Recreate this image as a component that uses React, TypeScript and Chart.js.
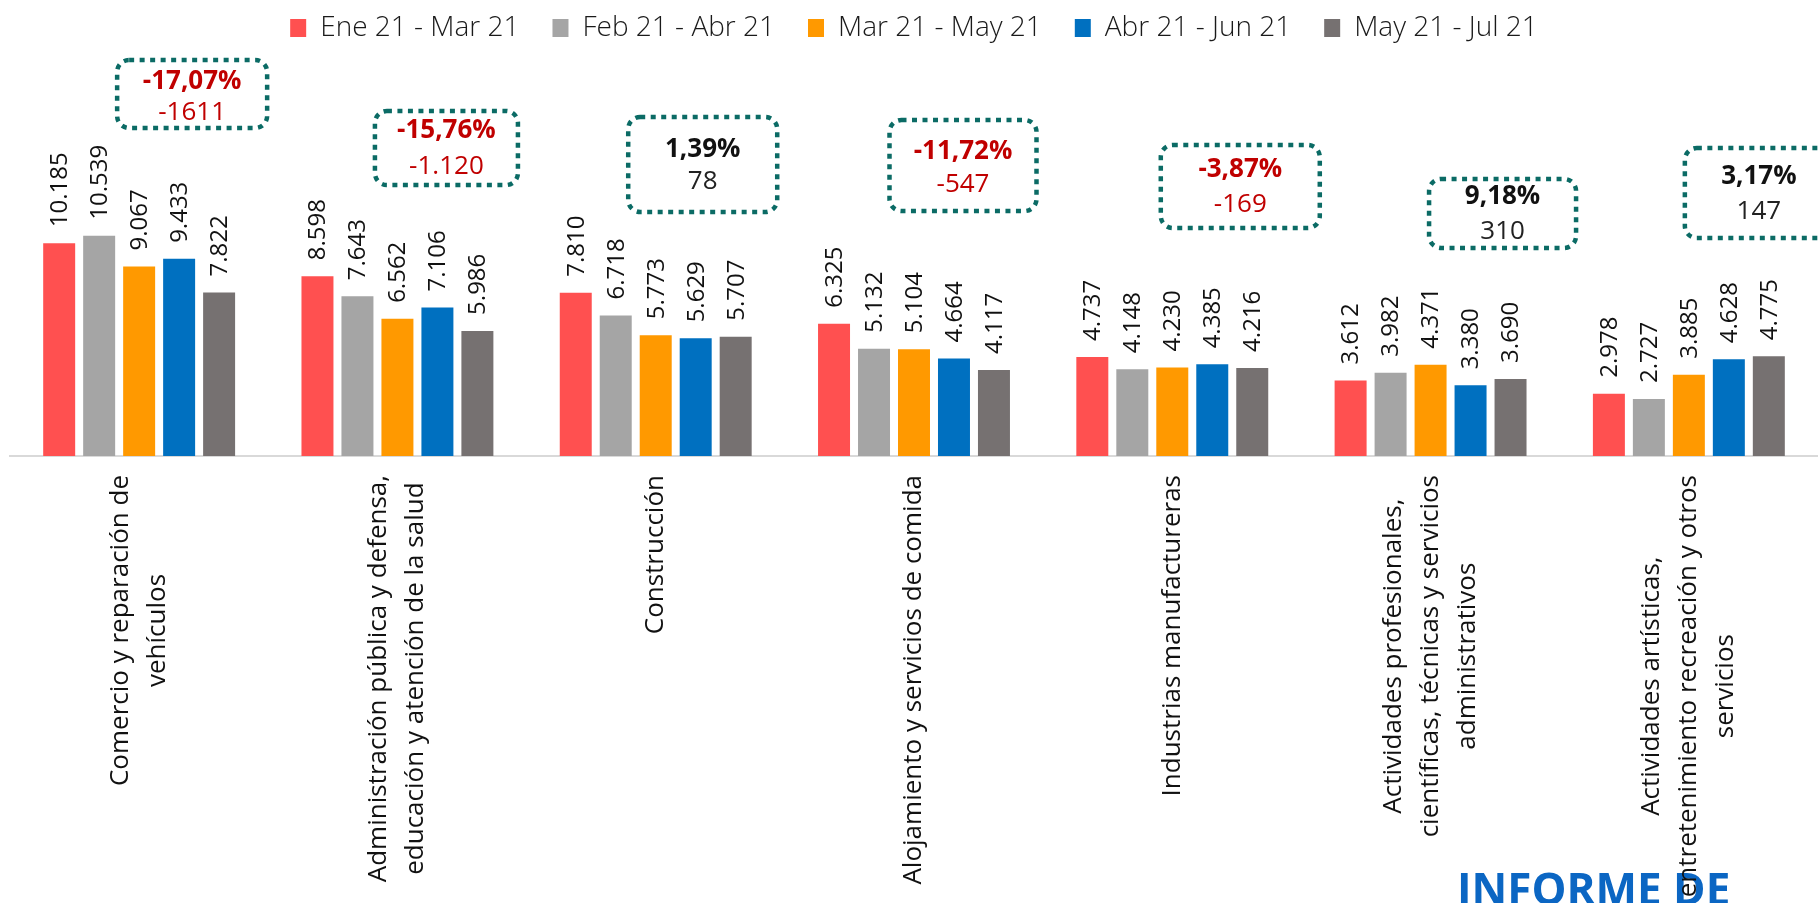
import React, { useEffect, useRef } from 'react';
import { Chart, registerables } from 'chart.js';

Chart.register(...registerables);

// ---------- data ----------
const categories: string[][] = [
  ['Comercio y reparación de', 'vehículos'],
  ['Administración pública y defensa,', 'educación y atención de la salud'],
  ['Construcción'],
  ['Alojamiento y servicios de comida'],
  ['Industrias manufactureras'],
  ['Actividades profesionales,', 'científicas, técnicas y servicios', 'administrativos'],
  ['Actividades artísticas,', 'entretenimiento recreación y otros', 'servicios'],
];

const seriesNames = ['Ene 21 - Mar 21', 'Feb 21 - Abr 21', 'Mar 21 - May 21', 'Abr 21 - Jun 21', 'May 21 - Jul 21'];

const eneMar = [10185, 8598, 7810, 6325, 4737, 3612, 2978];
const febAbr = [10539, 7643, 6718, 5132, 4148, 3982, 2727];
const marMay = [9067, 6562, 5773, 5104, 4230, 4371, 3885];
const abrJun = [9433, 7106, 5629, 4664, 4385, 3380, 4628];
const mayJul = [7822, 5986, 5707, 4117, 4216, 3690, 4775];

const changePct = ['-17,07%', '-15,76%', '1,39%', '-11,72%', '-3,87%', '9,18%', '3,17%'];
const changeAbs = ['-1611', '-1.120', '78', '-547', '-169', '310', '147'];

const seriesColors = ['#FF5050', '#A5A5A5', '#FF9900', '#0070C0', '#767171'];

// ---------- annotation box placement (pixels) ----------
const boxLayout = [
  { dx: 53, w: 150, top: 60, bottom: 128, pctY: 82, valY: 113 },
  { dx: 49, w: 143, top: 111, bottom: 185, pctY: 131, valY: 167 },
  { dx: 47, w: 149, top: 117, bottom: 212, pctY: 150, valY: 182 },
  { dx: 49, w: 147, top: 120, bottom: 211, pctY: 152, valY: 185 },
  { dx: 68, w: 159, top: 145, bottom: 228, pctY: 170, valY: 205 },
  { dx: 72, w: 147, top: 179, bottom: 248, pctY: 197, valY: 232 },
  { dx: 70, w: 148, top: 148, bottom: 238, pctY: 177, valY: 212 },
];

const FONT = "'Open Sans', 'Noto Sans', sans-serif";

const fmt = (n: number) => String(n).replace(/\B(?=(\d{3})+(?!\d))/g, '.');

const overlayPlugin = {
  id: 'overlay',
  afterDraw(chart: any) {
    const ctx: CanvasRenderingContext2D = chart.ctx;
    const xScale = chart.scales.x;
    const area = chart.chartArea;

    // "INFORME DE" heading (partially cut at bottom)
    ctx.save();
    ctx.fillStyle = '#0B66C3';
    ctx.font = `bold 44px ${FONT}`;
    ctx.textAlign = 'left';
    ctx.textBaseline = 'alphabetic';
    ctx.fillText('INFORME DE', 1457, 905);
    ctx.restore();

    // category labels, rotated, centered block
    ctx.save();
    ctx.fillStyle = '#111111';
    ctx.font = `26px ${FONT}`;
    const lineGap = 37;
    const labelTop = area.bottom + 19;
    categories.forEach((lines, i) => {
      const cx = xScale.getPixelForValue(i);
      const maxW = Math.max(...lines.map((l) => ctx.measureText(l).width));
      ctx.save();
      ctx.translate(cx, labelTop + maxW / 2);
      ctx.rotate(-Math.PI / 2);
      ctx.textAlign = 'center';
      ctx.textBaseline = 'middle';
      lines.forEach((l, j) => {
        ctx.fillText(l, 0, (j - (lines.length - 1) / 2) * lineGap);
      });
      ctx.restore();
    });
    ctx.restore();

    // value labels above bars
    ctx.save();
    ctx.fillStyle = '#111111';
    ctx.font = `24px ${FONT}`;
    chart.data.datasets.forEach((ds: any, di: number) => {
      const meta = chart.getDatasetMeta(di);
      meta.data.forEach((el: any, i: number) => {
        ctx.save();
        ctx.translate(el.x, el.y - 16);
        ctx.rotate(-Math.PI / 2);
        ctx.textAlign = 'left';
        ctx.textBaseline = 'middle';
        ctx.fillText(fmt(ds.data[i]), 0, 1);
        ctx.restore();
      });
    });
    ctx.restore();

    // dotted change boxes
    boxLayout.forEach((b, i) => {
      const cx = xScale.getPixelForValue(i) + b.dx;
      const neg = changePct[i].startsWith('-');
      ctx.save();
      ctx.strokeStyle = '#0B6B65';
      ctx.lineWidth = 4.5;
      ctx.setLineDash([5, 5.5]);
      ctx.beginPath();
      (ctx as any).roundRect(cx - b.w / 2, b.top, b.w, b.bottom - b.top, 12);
      ctx.stroke();
      ctx.setLineDash([]);
      ctx.textAlign = 'center';
      ctx.textBaseline = 'middle';
      ctx.fillStyle = neg ? '#C00000' : '#111111';
      ctx.font = `bold 26px ${FONT}`;
      ctx.fillText(changePct[i], cx, b.pctY);
      ctx.fillStyle = neg ? '#C00000' : '#222222';
      ctx.font = `26px ${FONT}`;
      ctx.fillText(changeAbs[i], cx, b.valY);
      ctx.restore();
    });
  },
};

export default function App() {
  const ref = useRef<HTMLCanvasElement>(null);

  useEffect(() => {
    document.body.style.margin = '0';
    document.body.style.overflow = 'hidden';
    Chart.defaults.font.family = FONT;
    const seriesValues = [eneMar, febAbr, marMay, abrJun, mayJul];
    const chart = new Chart(ref.current as HTMLCanvasElement, {
      type: 'bar',
      data: {
        labels: categories.map((c) => c.join(' ')),
        datasets: seriesValues.map((vals, i) => ({
          label: seriesNames[i],
          data: vals,
          backgroundColor: seriesColors[i],
          borderWidth: 0,
          categoryPercentage: 0.774,
          barPercentage: 0.8,
        })),
      },
      options: {
        animation: false,
        responsive: false,
        devicePixelRatio: 1,
        layout: { padding: { top: -19, left: 10, right: 0, bottom: 0 } },
        plugins: {
          legend: {
            position: 'top',
            labels: {
              boxWidth: 16,
              boxHeight: 18,
              padding: 33,
              color: '#1A1A1A',
              font: { family: FONT, size: 28, weight: '300' as any },
            },
          },
          tooltip: { enabled: false },
        },
        scales: {
          x: {
            grid: { display: false },
            ticks: { display: false },
            border: { display: true, color: '#D9D9D9', width: 2 },
            afterFit: (s: any) => {
              s.height = 447;
            },
          },
          y: { display: false, min: 0, max: 19330 },
        },
      },
      plugins: [overlayPlugin],
    });
    return () => chart.destroy();
  }, []);

  return <canvas ref={ref} width={1818} height={903} style={{ display: 'block' }} />;
}
